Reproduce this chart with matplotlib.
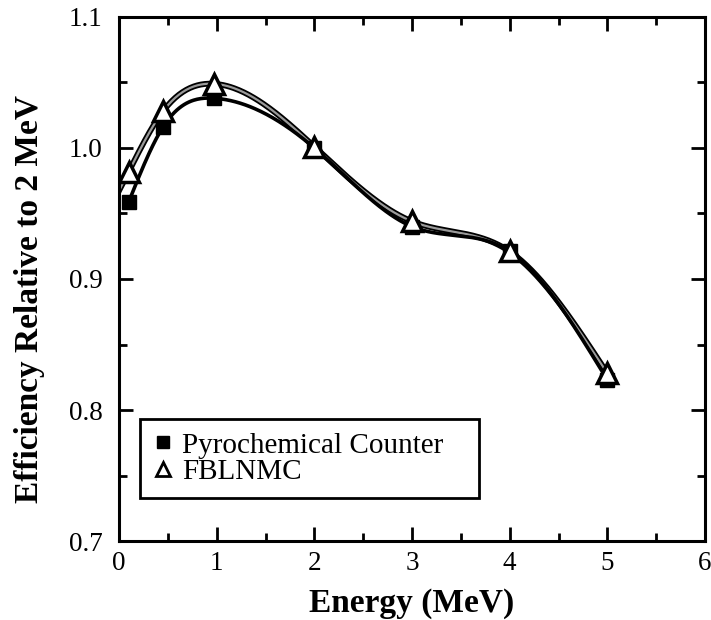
import numpy as np
import matplotlib.pyplot as plt
import matplotlib.patheffects as pe
from matplotlib.lines import Line2D
from matplotlib.ticker import MultipleLocator

plt.rcParams['font.family'] = ['Liberation Serif', 'DejaVu Serif']

# values
energy = [0.1, 0.45, 0.97, 2.0, 3.0, 4.0, 5.0]
pyro_eff = [0.959, 1.016, 1.038, 1.000, 0.940, 0.921, 0.823]
fbl_eff = [0.982, 1.028, 1.049, 1.001, 0.944, 0.921, 0.828]
labels = ["Pyrochemical Counter", "FBLNMC"]


def natural_spline(x, y, xs):
    # plain natural cubic spline, evaluated at xs (end cubics extended outside)
    x = np.asarray(x, float)
    y = np.asarray(y, float)
    n = len(x)
    h = np.diff(x)
    A = np.zeros((n, n))
    b = np.zeros(n)
    A[0, 0] = A[-1, -1] = 1
    for i in range(1, n - 1):
        A[i, i - 1] = h[i - 1]
        A[i, i] = 2 * (h[i - 1] + h[i])
        A[i, i + 1] = h[i]
        b[i] = 3 * ((y[i + 1] - y[i]) / h[i] - (y[i] - y[i - 1]) / h[i - 1])
    c = np.linalg.solve(A, b)
    bb = (y[1:] - y[:-1]) / h - h * (2 * c[:-1] + c[1:]) / 3
    d = (c[1:] - c[:-1]) / (3 * h)
    idx = np.clip(np.searchsorted(x, xs) - 1, 0, n - 2)
    dx = xs - x[idx]
    return y[idx] + bb[idx] * dx + c[idx] * dx ** 2 + d[idx] * dx ** 3


fig = plt.figure(figsize=(7.11, 6.2), dpi=100)
ax = fig.add_axes([0.1674, 0.1274, 0.8242, 0.8452])

xs_p = np.linspace(energy[0], energy[-1], 400)
xs_f = np.linspace(0.0, energy[-1], 400)

ax.plot(xs_f, natural_spline(energy, fbl_eff, xs_f), color='#9a9a9a', lw=1.6,
        path_effects=[pe.Stroke(linewidth=4.2, foreground='black'), pe.Normal()], zorder=2)
ax.plot(xs_p, natural_spline(energy, pyro_eff, xs_p), color='black', lw=2.6, zorder=3)

ax.plot(energy, pyro_eff, ls='none', marker='s', ms=10, color='black', zorder=4)
ax.plot(energy, fbl_eff, ls='none', marker='^', ms=14, mfc='white', mec='black',
        mew=2.5, zorder=5)

ax.set_xlim(0, 6)
ax.set_ylim(0.7, 1.1)
ax.xaxis.set_major_locator(MultipleLocator(1))
ax.xaxis.set_minor_locator(MultipleLocator(0.5))
ax.yaxis.set_major_locator(MultipleLocator(0.1))
ax.yaxis.set_minor_locator(MultipleLocator(0.05))
ax.yaxis.set_major_formatter(plt.FormatStrFormatter('%.1f'))
ax.tick_params(which='both', direction='in', top=True, right=True, labelsize=19.5, width=2)
ax.tick_params(which='major', length=10)
ax.tick_params(which='minor', length=6)
ax.tick_params(axis='x', pad=7)
ax.tick_params(axis='y', pad=12)
for s in ax.spines.values():
    s.set_linewidth(2.2)

ax.set_xlabel("Energy (MeV)", fontsize=24, fontweight='bold', labelpad=9)
ax.set_ylabel("Efficiency Relative to 2 MeV", fontsize=24, fontweight='bold')
ax.yaxis.set_label_coords(-0.126, 0.462)

handles = [
    Line2D([], [], ls='none', marker='s', ms=9, color='black'),
    Line2D([], [], ls='none', marker='^', ms=10, mfc='white', mec='black', mew=2),
]
leg = ax.legend(handles, labels, loc='lower left', mode='expand',
                bbox_to_anchor=(0.0358, 0.082, 0.578, 0.153),
                borderaxespad=0, fontsize=21, frameon=True, fancybox=False,
                handlelength=0.7, handletextpad=0.3, borderpad=0.45, labelspacing=0.0,
                framealpha=1)
leg.get_frame().set_edgecolor('black')
leg.get_frame().set_linewidth(2)

fig.savefig("out.png", dpi=100)
